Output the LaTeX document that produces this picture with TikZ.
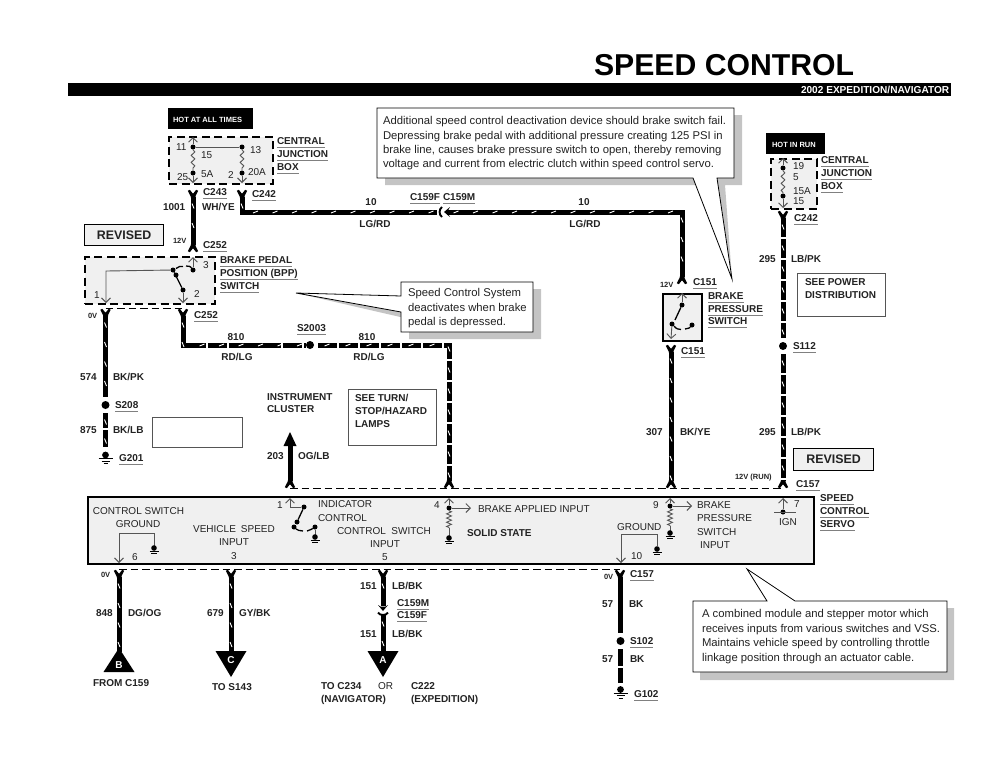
\documentclass[tikz,border=0pt]{standalone}
\usepackage{fontspec}
\setmainfont{Liberation Sans}
\usetikzlibrary{arrows.meta,decorations.markings,decorations.pathmorphing}
\definecolor{panel}{HTML}{F0F0F0}
\definecolor{shade}{HTML}{C4C4C4}
\definecolor{inner}{HTML}{555555}
\definecolor{ink}{HTML}{222222}
\newcounter{tn}
\newcommand\Tx[4][]{\stepcounter{tn}\node[txt,#1] (t\arabic{tn}) at (#2,#3) {#4};}
\newcommand\Bd[4][]{\Tx[bl,#1]{#2}{#3}{#4}}
\newcommand\Rg[4][]{\Tx[rg,#1]{#2}{#3}{#4}}
\newcommand\Sm[4][]{\Tx[sm,#1]{#2}{#3}{#4}}
\newcommand\Cl[4][]{\Tx[cl,#1]{#2}{#3}{#4}}
\newcommand\ulbox[1]{\setbox0=\hbox{#1}\rlap{\color{gray}\rule[-3.2pt]{\wd0}{.9pt}}\box0 }
\newcommand\Ul[4][]{\Tx[bl,#1]{#2}{#3}{\ulbox{#4}}}
\tikzset{
 x=1pt,y=-1pt,
 txt/.style={anchor=west,inner sep=0pt,outer sep=0pt,text=ink,text height=7.2pt,text depth=0pt},
 bl/.style={font=\fontsize{10}{10}\selectfont\bfseries},
 rg/.style={font=\fontsize{10}{10}\selectfont},
 sm/.style={font=\fontsize{7.5}{7.5}\selectfont\bfseries,text height=5.4pt},
 cl/.style={font=\fontsize{11.3}{11.3}\selectfont,text height=8.1pt},
 ticks/.style={postaction={decorate,decoration={markings,mark=between positions 9pt and -3pt step #1 with {\draw[white,line width=.9pt,solid] (-2.5pt,-1pt)--(2.5pt,1pt);}}}},
 wire/.style={draw=black,line width=5pt,ticks=19.5pt},
 brokenwire/.style={draw=black,line width=5pt,dash pattern=on 19pt off 2pt,ticks=21pt},
 plainwire/.style={draw=black,line width=5pt},
 thindash/.style={draw=black,line width=.9pt,dash pattern=on 7.5pt off 4pt},
 jbox/.style={draw=black,fill=panel,line width=2pt,dash pattern=on 8pt off 4.6pt},
 solidbox/.style={draw=black,fill=panel,line width=2pt},
 note/.style={draw=inner,line width=.9pt},
 intw/.style={draw=inner,line width=1pt},
 inta/.style={draw=inner,line width=.9pt,-{Straight Barb[length=4.5pt,width=9pt]}},
 fuse/.style={draw=inner,line width=.9pt,decorate,decoration={snake,amplitude=1.8pt,segment length=7pt}},
 res/.style={draw=inner,line width=.9pt,decorate,decoration={zigzag,amplitude=2.4pt,segment length=4.2pt}},
 dot/.style={circle,fill=black,inner sep=0pt,minimum size=5pt},
 splice/.style={circle,fill=black,inner sep=0pt,minimum size=8pt},
 callout/.style={fill=white,draw=black,line width=.8pt,line join=miter},
 shadow/.style={fill=shade},
 pics/forkup/.style={code={\fill[black] (-5.2,-6.2)--(-3.2,-7.2)--(0,-3.2)--(3.2,-7.2)--(5.2,-6.2)--(2.5,-1)--(2.5,.3)--(-2.5,.3)--(-2.5,-1)--cycle;}},
 pics/forkdn/.style={code={\fill[black] (-5.2,6.2)--(-3.2,7.2)--(0,3.2)--(3.2,7.2)--(5.2,6.2)--(2.5,1)--(2.5,-.3)--(-2.5,-.3)--(-2.5,1)--cycle;}},
 pics/plug/.style={code={\fill[black] (-5,-6)--(-2.5,-4.5)--(2.5,-4.5)--(5,-6)--(0,0)--cycle;}},
 pics/socket/.style={code={\draw[black,line width=1.9pt] (-5,0) .. controls (-3,3.2) and (3,3.2) .. (5,0);}},
 pics/gnd/.style={code={\fill[black] (0,0) circle[radius=3.4];\draw[black,line width=1pt] (-7,3.8)--(7,3.8) (-4,6.2)--(4,6.2);\draw[black,line width=.8pt] (-2,8.5)--(2,8.5);}},
 pics/sgnd/.style={code={\fill[black] (0,0) circle[radius=2.8];\draw[black,line width=.9pt] (-4.5,3)--(4.5,3) (-2.8,5)--(2.8,5);}},
}
\begin{document}
\begin{tikzpicture}
\useasboundingbox (0,0) rectangle (1000,774);
% title
\Tx[font=\fontsize{30.2}{30}\selectfont\bfseries,text=black,text height=21.7pt]{594}{65}{SPEED CONTROL}
\node[fill=black,minimum width=883pt,minimum height=13pt,inner sep=0pt,anchor=north west] (bar) at (68,83) {};
\Tx[font=\fontsize{10.1}{10}\selectfont\bfseries,text=white]{801}{90}{2002 EXPEDITION/NAVIGATOR}

% hot boxes
\node[fill=black,minimum width=85pt,minimum height=21pt,inner sep=0pt,anchor=north west] (hotall) at (168,108) {};
\Sm[text=white]{173}{119.5}{HOT AT ALL TIMES}
\node[fill=black,minimum width=59pt,minimum height=21pt,inner sep=0pt,anchor=north west] (hotrun) at (766,133) {};
\Sm[text=white]{772}{145}{HOT IN RUN}

% central junction box left
\node[jbox,minimum width=104pt,minimum height=47pt,inner sep=0pt,anchor=north west] (cjb) at (168,136) {};
\node[dot] (f11) at (193,147) {};
\node[dot] (f13) at (242,147) {};
\node[dot] (f25) at (193,173) {};
\node[dot] (f2) at (242,173) {};
\coordinate (cjbt) at (193,137);
\coordinate (cjbbl) at (193,183);
\coordinate (cjbbr) at (242,183);
\draw[intw] (f11)--(f13);
\draw[inta] (f11)--(cjbt);
\draw[inta] (f25)--(cjbbl);
\draw[inta] (f2)--(cjbbr);
\draw[fuse] (f11)--(f25);
\draw[fuse] (f13)--(f2);
\Rg{176}{147}{11}\Rg{250}{150}{13}\Rg{201}{155}{15}\Rg{177}{177}{25}\Rg{201}{174}{5A}\Rg{228}{175}{2}\Rg{248}{172}{20A}
\Ul{277}{141}{CENTRAL}\Ul{277}{154}{JUNCTION}\Ul{277}{167}{BOX}

% wires from CJB
\coordinate (wa1) at (193,197);\coordinate (wa2) at (193,245);
\draw[wire] (wa1)--(wa2);
\pic at (wa1) {forkup};
\pic at (wa2) {forkdn};
\coordinate (wb1) at (242,197);\coordinate (wb2) at (242,212);\coordinate (wb3) at (437,212);
\coordinate (wb4) at (447,212);\coordinate (wb5) at (682,212);\coordinate (wb6) at (682,277);
\draw[wire,line join=miter] (wb1)--(wb2)--(wb3);
\draw[wire,line join=miter] (wb4)--(wb5)--(wb6);
\pic at (wb1) {forkup};
\pic at (wb6) {forkdn};
\pic[rotate=-90] at (444,212) {plug};
\pic[rotate=-90] at (442,212) {socket};
\Ul{203}{192}{C243}\Ul{252}{194}{C242}
\Bd{163}{207}{1001}\Bd{202}{207}{WH/YE}
\Bd[anchor=center]{371}{202}{10}\Bd[anchor=center]{375}{224}{LG/RD}
\Ul{410}{197}{C159F}\Ul{443}{197}{C159M}
\Bd[anchor=center]{584}{202}{10}\Bd[anchor=center]{585}{224}{LG/RD}

% revised 1
\node[draw=black,line width=1.4pt,fill=panel,minimum width=79pt,minimum height=21.5pt,inner sep=0pt,anchor=north west,font=\fontsize{12.4}{12}\selectfont\bfseries,text=ink] (rev1) at (84,223.5) {REVISED};
\Sm{173}{241}{12V}
\Ul{203}{245}{C252}

% BPP switch
\node[jbox,minimum width=130pt,minimum height=47pt,inner sep=0pt,anchor=north west] (bpp) at (84,256) {};
\node[dot] (b3) at (193,270) {};
\node[dot] (bm) at (173,270) {};
\node[dot] (bm2) at (176,275) {};
\node[dot] (b2) at (183,290) {};
\coordinate (bt) at (193,257);\coordinate (bl1) at (106,271);\coordinate (bl2) at (106,303);\coordinate (bb) at (183,303);
\draw[inta] (b3)--(bt);
\draw[inta] (bm) -- (bl1) -- (bl2);
\draw[inta] (b2)--(bb);
\draw[black,line width=1.3pt] (bm)--(b2);
\draw[black,line width=1.3pt] (176,268.5) .. controls (178,266.5) and (181,266) .. (183,266.5);
\draw[black,line width=1.3pt] (186,266) .. controls (189,265.5) and (191,267) .. (b3);
\Rg{203}{265}{3}\Rg{94}{295}{1}\Rg{194}{294}{2}
\Ul{220}{260}{BRAKE PEDAL}\Ul{220}{273}{POSITION (BPP)}\Ul{220}{286}{SWITCH}

% below BPP
\coordinate (wc1) at (105.5,316);\coordinate (wc2) at (105.5,397);
\coordinate (wd1) at (183,316);\coordinate (wd2) at (183,345);\coordinate (wd3) at (449,345);\coordinate (wd4) at (449,481);
\coordinate (dashA) at (105.5,308.5);\coordinate (dashB) at (183,308.5);
\draw[thindash] (dashA)--(dashB);
\draw[wire] (wc1)--(wc2);
\pic at (wc1) {forkup};
\node[splice] (s208) at (105.5,405) {};
\coordinate (we1) at (105.5,413);\coordinate (we2) at (105.5,447);
\draw[draw=black,line width=5pt,dash pattern=on 15pt off 2pt on 30pt off 0pt,ticks=19pt] (we1)--(we2);
\pic at (105.5,455) {gnd};
\coordinate (wd2a) at (306,345);
\draw[wire,line join=miter,dash pattern=on 52pt off 2pt on 19pt off 2pt] (wd1)--(wd2)--(wd2a);
\node[splice] (s2003) at (310,345) {};
\coordinate (wd2b) at (318,345);
\draw[brokenwire,line join=miter] (wd2b)--(wd3)--(wd4);
\pic at (wd1) {forkup};
\pic at (wd4) {forkdn};
\Sm{88}{316}{0V}
\Ul{194}{315}{C252}
\Bd{80}{377}{574}\Bd{113}{377}{BK/PK}
\Ul{115}{405}{S208}
\Bd{80}{430}{875}\Bd{113}{430}{BK/LB}
\Ul{119}{458}{G201}
\Bd[anchor=center]{236}{337}{810}\Bd[anchor=center]{237}{357}{RD/LG}
\Ul{297}{328}{S2003}
\Bd[anchor=center]{367}{337}{810}\Bd[anchor=center]{369}{357}{RD/LG}
\node[note,minimum width=90pt,minimum height=30pt,inner sep=0pt,anchor=north west] (blank) at (152,417) {};

% instrument cluster
\Bd{267}{397}{INSTRUMENT}\Bd{267}{409}{CLUSTER}
\coordinate (ic1) at (290,481);\coordinate (ic2) at (290,445);\coordinate (ic3) at (290,432);
\draw[plainwire] (ic1)--(ic2);
\fill[black] (ic3)--(296.5,446)--(283.5,446)--cycle;
\pic at (ic1) {forkdn};
\Bd{267}{456}{203}\Bd{298}{456}{OG/LB}
\node[note,minimum width=88pt,minimum height=56pt,inner sep=0pt,anchor=north west] (turn) at (348,389) {};
\Bd{355}{398}{SEE TURN/}\Bd{355}{411}{STOP/HAZARD}\Bd{355}{424}{LAMPS}

% callout 1
\coordinate (c1tip) at (732,279);
\fill[shadow] (385,115)--(742,115)--(742,185)--(725,185)--(c1tip)--(717,185)--(385,185)--cycle;
\draw[callout] (377,108)--(734,108)--(734,178)--(717,178)--(c1tip)--(693,178)--(377,178)--cycle;
\Cl{383}{120}{Additional speed control deactivation device should brake switch fail.}
\Cl{383}{135}{Depressing brake pedal with additional pressure creating 125 PSI in}
\Cl{383}{149}{brake line, causes brake pressure switch to open, thereby removing}
\Cl{383}{163}{voltage and current from electric clutch within speed control servo.}

% callout 2
\coordinate (c2tip) at (296,293);
\fill[shadow] (c2tip)--(409,312)--(409,289)--(541,289)--(541,339)--(409,339)--(409,319)--cycle;
\draw[callout] (401,282)--(533,282)--(533,332)--(401,332)--(401,312)--(c2tip)--(401,296)--cycle;
\Cl{408}{292.5}{Speed Control System}\Cl{408}{307}{deactivates when brake}\Cl{408}{321}{pedal is depressed.}

% brake pressure switch
\node[solidbox,minimum width=39pt,minimum height=47pt,inner sep=0pt,anchor=north west] (bps) at (662,292.5) {};
\node[dot] (ps1) at (682,305) {};
\node[dot] (ps2) at (672,324) {};
\node[dot] (ps3) at (692,325) {};
\coordinate (pst) at (682,293);\coordinate (psb) at (671,339);
\draw[inta] (ps1)--(pst);
\draw[inta] (ps2)--(psb);
\draw[black,line width=1.3pt] (ps1)--(675,320);
\draw[black,line width=1.3pt] (674,326) .. controls (676,329) and (679,329.5) .. (681,329.5);
\draw[black,line width=1.3pt] (685,329) .. controls (688,329) and (690,327.5) .. (ps3);
\Sm{660}{284.5}{12V}\Ul{693}{282}{C151}
\Ul{708}{296}{BRAKE}\Ul{708}{309}{PRESSURE}\Ul{708}{321}{SWITCH}
\coordinate (wf1) at (671,352);\coordinate (wf2) at (671,481);
\draw[wire] (wf1)--(wf2);
\pic at (wf1) {forkup};
\pic at (wf2) {forkdn};
\Ul{681}{351}{C151}
\Bd{646}{432}{307}\Bd{680}{432}{BK/YE}

% central junction box right
\node[jbox,minimum width=46pt,minimum height=50pt,inner sep=0pt,anchor=north west] (cjr) at (770,158) {};
\node[dot] (r19) at (783,168) {};
\node[dot] (r15) at (783,196) {};
\coordinate (rt) at (783,158);\coordinate (rb) at (783,208);
\draw[inta] (r19)--(rt);
\draw[inta] (r15)--(rb);
\draw[fuse] (r19)--(r15);
\Rg{793}{166}{19}\Rg{793}{177}{5}\Rg{793}{191}{15A}\Rg{793}{201}{15}
\Ul{821}{160}{CENTRAL}\Ul{821}{173}{JUNCTION}\Ul{821}{186}{BOX}
\coordinate (wg1) at (783,218);\coordinate (wg2) at (783,338);
\draw[brokenwire] (wg1)--(wg2);
\pic at (wg1) {forkup};
\Ul{794}{218}{C242}
\Bd{759}{259}{295}\Bd{791}{259}{LB/PK}
\node[note,minimum width=88pt,minimum height=43pt,inner sep=0pt,anchor=north west] (power) at (797,273) {};
\Bd{805}{282}{SEE POWER}\Bd{805}{295}{DISTRIBUTION}
\node[splice] (s112) at (783,346) {};
\Ul{793}{346}{S112}
\coordinate (wh1) at (783,354);\coordinate (wh2) at (783,481);
\draw[brokenwire] (wh1)--(wh2);
\pic at (wh2) {forkdn};
\Bd{759}{432}{295}\Bd{791}{432}{LB/PK}
\node[draw=black,line width=1.4pt,fill=panel,minimum width=80pt,minimum height=22pt,inner sep=0pt,anchor=north west,font=\fontsize{12.4}{12}\selectfont\bfseries,text=ink] (rev2) at (793,448) {REVISED};
\Sm{735}{477}{12V (RUN)}
\Ul{796}{484}{C157}
\Ul{820}{498}{SPEED}\Ul{820}{511}{CONTROL}\Ul{820}{524}{SERVO}

% dashed above servo
\coordinate (dt1) at (290,488);\coordinate (dt2) at (783,488);
\draw[thindash] (dt1)--(dt2);

% servo box
\node[solidbox,line width=2.2pt,minimum width=726pt,minimum height=67pt,inner sep=0pt,anchor=north west] (servo) at (87,496) {};
\Rg[anchor=center]{138.5}{511}{CONTROL SWITCH}\Rg[anchor=center]{138}{524}{GROUND}
\coordinate (g6a) at (119,533);\coordinate (g6b) at (154,533);\coordinate (g6c) at (154,546);\coordinate (g6d) at (119,563);
\draw[inta] (g6c)--(g6b)--(g6a)--(g6d);
\pic at (154,548) {sgnd};
\Rg{132}{557}{6}
\Rg[anchor=center]{234}{529}{VEHICLE\hspace{5pt}SPEED}\Rg[anchor=center]{234}{542}{INPUT}\Rg[anchor=center]{234}{556}{3}
% pin 1
\Rg{277}{505}{1}
\node[dot] (p1a) at (304,507) {};
\node[dot] (p1b) at (297,522) {};
\node[dot] (p1c) at (294,527) {};
\node[dot] (p1d) at (315,527) {};
\coordinate (p1t) at (290,498);\coordinate (p1k) at (290,507);
\draw[inta] (p1a)--(p1k)--(p1t);
\draw[black,line width=1.3pt] (p1a)--(p1b);
\draw[black,line width=1.3pt] (p1c) .. controls (297,530) and (300,531) .. (303,531);
\draw[black,line width=1.3pt] (307,531) .. controls (310,530) and (312,529) .. (p1d);
\draw[intw] (p1d)--(315,535);
\pic at (315,537) {sgnd};
\Rg{318}{504}{INDICATOR}\Rg{318}{518}{CONTROL}\Rg{337}{531}{CONTROL\hspace{5.5pt}SWITCH}
\Rg[anchor=center]{385}{544}{INPUT}\Rg[anchor=center]{385}{557}{5}
% pin 4
\Rg{434}{505}{4}
\node[dot] (p4) at (449,508) {};
\coordinate (p4t) at (449,498);\coordinate (p4r) at (471,508);\coordinate (p4b) at (449,536);
\draw[inta] (p4)--(p4t);
\draw[inta] (p4)--(p4r);
\draw[res] (p4)--(449,528);
\draw[intw] (449,528)--(p4b);
\pic at (449,538) {sgnd};
\Rg{478}{509}{BRAKE APPLIED INPUT}
\Bd{467}{533}{SOLID STATE}
% ground 10
\Rg{617}{527}{GROUND}
\coordinate (g10a) at (621,534);\coordinate (g10b) at (657,534);\coordinate (g10c) at (657,546);\coordinate (g10d) at (621,563);
\draw[inta] (g10c)--(g10b)--(g10a)--(g10d);
\pic at (657,549) {sgnd};
\Rg{631}{556}{10}
% pin 9
\Rg{653}{505}{9}
\node[dot] (p9) at (670,506) {};
\coordinate (p9t) at (670,498);\coordinate (p9r) at (692,506);\coordinate (p9b) at (670,531);
\draw[inta] (p9)--(p9t);
\draw[inta] (p9)--(p9r);
\draw[res] (p9)--(670,526);
\draw[intw] (670,526)--(p9b);
\pic at (670,533) {sgnd};
\Rg{697}{505}{BRAKE}\Rg{697}{518}{PRESSURE}\Rg{697}{532}{SWITCH}\Rg{700}{545}{INPUT}
% pin 7
\node[dot] (p7) at (783,512) {};
\coordinate (p7t) at (783,498);\coordinate (p7l) at (774,512);\coordinate (p7r) at (796,512);
\draw[inta] (p7)--(p7t);
\draw[intw] (p7l)--(p7r);
\Rg{794}{504}{7}
\Rg[anchor=center]{788}{522}{IGN}

% dashed below servo
\coordinate (db1) at (119,569);\coordinate (db2) at (620,569);
\draw[thindash] (db1)--(db2);

% B wire
\coordinate (wB1) at (119,577);\coordinate (wB2) at (119,652);
\draw[wire] (wB1)--(wB2);
\pic at (wB1) {forkup};
\fill[black] (119,648)--(134.5,672)--(103.5,672)--cycle;
\Tx[anchor=center,bl,text=white]{119}{664.5}{B}
\Sm{101}{575}{0V}
\Bd{96}{613}{848}\Bd{128}{613}{DG/OG}
\Bd{93}{683}{FROM C159}

% C wire
\coordinate (wC1) at (231,577);\coordinate (wC2) at (231,652);
\draw[wire] (wC1)--(wC2);
\pic at (wC1) {forkup};
\fill[black] (215.5,651)--(246.5,651)--(231,677)--cycle;
\Tx[anchor=center,bl,text=white]{231}{659.5}{C}
\Bd{207}{613}{679}\Bd{239}{613}{GY/BK}
\Bd{212}{687}{TO S143}

% A wire
\coordinate (wA1) at (383,577);\coordinate (wA2) at (383,606);\coordinate (wA3) at (383,615);\coordinate (wA4) at (383,652);
\draw[wire] (wA1)--(wA2);
\draw[wire] (wA3)--(wA4);
\pic at (wA1) {forkup};
\pic at (383,611) {plug};
\pic at (383,612.6) {socket};
\fill[black] (367.5,651)--(398.5,651)--(383,677)--cycle;
\Tx[anchor=center,bl,text=white]{383}{660}{A}
\Bd{360}{586}{151}\Bd{392}{586}{LB/BK}
\Ul{397}{603}{C159M}\Ul{397}{615}{C159F}
\Bd{360}{634}{151}\Bd{392}{634}{LB/BK}
\Bd{321}{686}{TO C234}\Bd{321}{699}{(NAVIGATOR)}
\Rg{378}{686}{OR}
\Bd{411}{686}{C222}\Bd{411}{699}{(EXPEDITION)}

% ground wire right
\coordinate (wK1) at (620,577);\coordinate (wK2) at (620,633);
\draw[plainwire] (wK1)--(wK2);
\pic at (wK1) {forkup};
\node[splice] (s102) at (620.5,641) {};
\coordinate (wK3) at (620,649);\coordinate (wK4) at (620,683);
\draw[plainwire,dash pattern=on 17pt off 2pt] (wK3)--(wK4);
\pic at (620.5,689.5) {gnd};
\Sm{604}{577}{0V}
\Ul{630}{574}{C157}
\Bd{602}{604}{57}\Bd{629}{604}{BK}
\Ul{630}{641}{S102}
\Bd{602}{659}{57}\Bd{630}{659}{BK}
\Ul{634}{694}{G102}

% callout 3
\coordinate (c3tip) at (747,569);
\fill[shadow] (c3tip)--(802,608)--(954,608)--(954,680)--(700,680)--(700,608)--(767,601)--cycle;
\draw[callout] (693,601)--(767,601)--(c3tip)--(795,601)--(947,601)--(947,672)--(693,672)--cycle;
\Cl{702}{613.5}{A combined module and stepper motor which}
\Cl{702}{628}{receives inputs from various switches and VSS.}
\Cl{702}{642.5}{Maintains vehicle speed by controlling throttle}
\Cl{702}{657}{linkage position through an actuator cable.}
\end{tikzpicture}
\end{document}
